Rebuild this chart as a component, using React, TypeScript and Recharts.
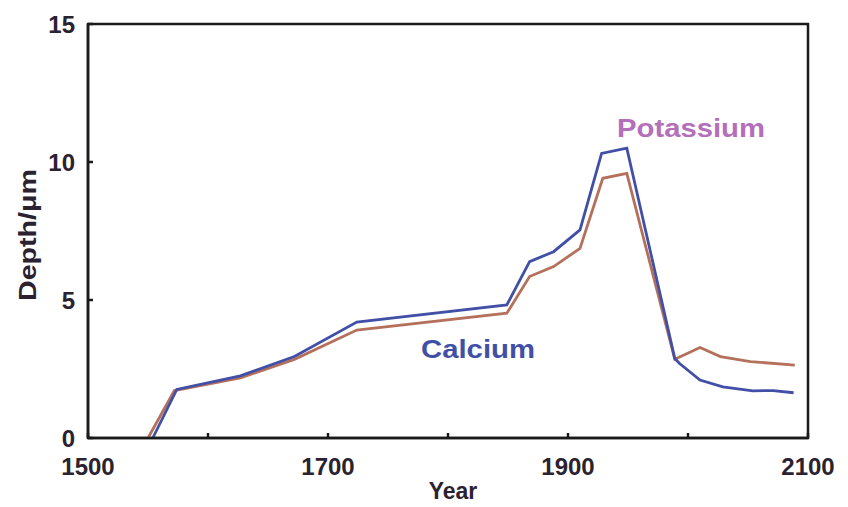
import React from 'react';
import { LineChart, Line, XAxis, YAxis, ReferenceArea, ReferenceDot } from 'recharts';

const calciumYears = [1554, 1574, 1627, 1672, 1724, 1849, 1868, 1888, 1910, 1928, 1949, 1989, 1993, 2010, 2029, 2054, 2071, 2088];
const calciumDepth = [0, 1.76, 2.25, 2.95, 4.2, 4.82, 6.39, 6.75, 7.54, 10.31, 10.5, 2.88, 2.7, 2.1, 1.85, 1.71, 1.72, 1.64];

const potassiumYears = [1550, 1572, 1627, 1672, 1724, 1849, 1868, 1888, 1910, 1929, 1949, 1989, 2010, 2027, 2052, 2089];
const potassiumDepth = [0, 1.72, 2.18, 2.85, 3.91, 4.52, 5.85, 6.21, 6.87, 9.41, 9.59, 2.85, 3.28, 2.95, 2.77, 2.64];

const xTicks = [1500, 1600, 1700, 1800, 1900, 2000, 2100];
const yTicks = [0, 5, 10, 15];

const calciumData = calciumYears.map((year, i) => ({ year, depth: calciumDepth[i] }));
const potassiumData = potassiumYears.map((year, i) => ({ year, depth: potassiumDepth[i] }));

const FONT = '"Liberation Sans", Arial, Helvetica, sans-serif';
const BLUE = '#4150a6';
const BROWN = '#b5705c';
const TEXT = '#2a2230';

const seriesLabel = (text: string, color: string, len: number) => (props: any) => {
  const vb = props.viewBox || {};
  const cx = (vb.x || 0) + (vb.width || 0) / 2;
  const cy = (vb.y || 0) + (vb.height || 0) / 2;
  return (
    <text
      x={cx}
      y={cy}
      textAnchor="middle"
      dominantBaseline="central"
      fontFamily={FONT}
      fontWeight="bold"
      fontSize={25}
      fill={color}
      textLength={len}
      lengthAdjust="spacingAndGlyphs"
    >
      {text}
    </text>
  );
};

const yLabel = (props: any) => {
  const vb = props.viewBox || {};
  const cx = 27;
  const cy = (vb.y || 0) + (vb.height || 0) / 2 + 4;
  return (
    <text
      x={cx}
      y={cy}
      transform={`rotate(-90, ${cx}, ${cy})`}
      textAnchor="middle"
      dominantBaseline="central"
      fontFamily={FONT}
      fontWeight="bold"
      fontSize={24}
      fill={TEXT}
      textLength={132}
      lengthAdjust="spacingAndGlyphs"
    >
      Depth/μm
    </text>
  );
};

const xLabel = (props: any) => {
  const vb = props.viewBox || {};
  const cx = (vb.x || 0) + (vb.width || 0) / 2 + 5;
  const cy = 491;
  return (
    <text
      x={cx}
      y={cy}
      textAnchor="middle"
      dominantBaseline="central"
      fontFamily={FONT}
      fontWeight="bold"
      fontSize={23}
      fill={TEXT}
    >
      Year
    </text>
  );
};

export default function App() {
  return (
    <div style={{ position: 'absolute', left: 0, top: 0, width: 848, height: 507, background: '#fff' }}>
      <LineChart width={848} height={507} margin={{ top: 24, right: 40, bottom: 0, left: 28 }}>
        <XAxis
          dataKey="year"
          type="number"
          domain={[1500, 2100]}
          ticks={xTicks}
          interval={0}
          allowDuplicatedCategory={false}
          tickFormatter={(v: number) => ((v - 1500) % 200 === 0 ? String(v) : '')}
          height={69}
          tickSize={-5}
          tickMargin={25}
          axisLine={{ stroke: '#1a1a1a', strokeWidth: 2.5 }}
          tickLine={{ stroke: '#1a1a1a', strokeWidth: 2.5 }}
          tick={{ fontFamily: FONT, fontWeight: 'bold', fontSize: 24, fill: TEXT }}
          label={{ content: xLabel }}
        />
        <YAxis
          type="number"
          domain={[0, 15]}
          ticks={yTicks}
          interval={0}
          width={60}
          tickSize={-5}
          tickMargin={18}
          axisLine={{ stroke: '#1a1a1a', strokeWidth: 2.5 }}
          tickLine={{ stroke: '#1a1a1a', strokeWidth: 2.5 }}
          tick={{ fontFamily: FONT, fontWeight: 'bold', fontSize: 24, fill: TEXT }}
          label={{ content: yLabel }}
        />
        <ReferenceArea x1={1500} x2={2100} y1={0} y2={15} fill="none" stroke="#1a1a1a" strokeWidth={2.5} />
        <Line
          data={potassiumData}
          dataKey="depth"
          type="linear"
          stroke={BROWN}
          strokeWidth={2.8}
          dot={false}
          isAnimationActive={false}
        />
        <Line
          data={calciumData}
          dataKey="depth"
          type="linear"
          stroke={BLUE}
          strokeWidth={2.8}
          dot={false}
          isAnimationActive={false}
        />
        <ReferenceDot x={2002.5} y={11.23} r={0} fill="none" stroke="none" label={{ content: seriesLabel('Potassium', '#b46fba', 148) }} />
        <ReferenceDot x={1825} y={3.22} r={0} fill="none" stroke="none" label={{ content: seriesLabel('Calcium', BLUE, 114) }} />
      </LineChart>
    </div>
  );
}
